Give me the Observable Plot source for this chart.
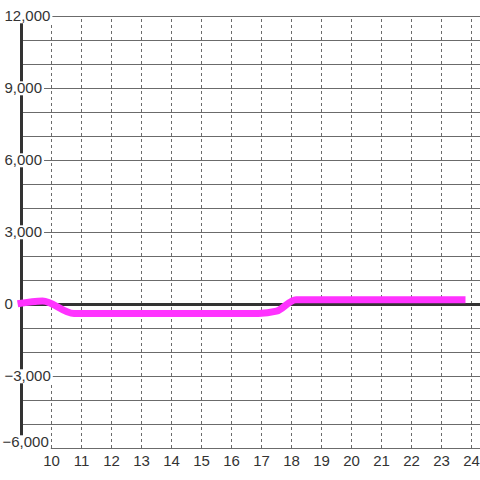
<!DOCTYPE html>
<html>
<head>
<meta charset="utf-8">
<script src="https://cdn.jsdelivr.net/npm/d3@7"></script>
<script src="https://cdn.jsdelivr.net/npm/@observablehq/plot@0.6"></script>
<style>
  html, body { margin: 0; padding: 0; background: #fff; }
  svg { display: block; }
</style>
</head>
<body>
<div id="chart"></div>
<script>
// Series values
const hours  = [8.87, 9.7, 10.75, 16.9, 17.5, 18.15, 23.8];
const values = [30,   150, -370,  -370, -280, 200,   200];

// Tick labels
const xTicks = [10, 11, 12, 13, 14, 15, 16, 17, 18, 19, 20, 21, 22, 23, 24];
const yTicks = [-6000, -3000, 0, 3000, 6000, 9000, 12000];
const yGrid  = [-6000, -5000, -4000, -3000, -2000, -1000, 0, 1000, 2000, 3000, 4000, 5000, 6000, 7000, 8000, 9000, 10000, 11000, 12000];

const data = hours.map((h, i) => ({x: h, y: values[i]}));
const fmt = d3.format(",");
const font = "Liberation Sans, Arial, sans-serif";

const chart = Plot.plot({
  width: 480,
  height: 480,
  marginTop: 16,
  marginBottom: 32,
  marginLeft: 0,
  marginRight: 0,
  x: {domain: [8.3, 24.3], axis: null},
  y: {domain: [-6000, 12000], axis: null},
  style: {fontFamily: font, background: "#fff"},
  marks: [
    Plot.ruleY(yGrid, {y: d => d, x1: 9, x2: 24.3, stroke: "#6b6b6b", strokeWidth: 1, strokeOpacity: 1}),
    Plot.ruleX(xTicks, {x: d => d, y1: -6000, y2: 12000, stroke: "#6b6b6b", strokeWidth: 1, strokeDasharray: "3,3", strokeOpacity: 1}),
    Plot.ruleY([0], {x1: 9, x2: 24.3, stroke: "#333", strokeWidth: 3, strokeOpacity: 1}),
    Plot.ruleX([9], {y1: -6000, y2: 12000, stroke: "#333", strokeWidth: 3, strokeOpacity: 1}),
    Plot.text(yTicks.filter(d => d !== -6000), {
      y: d => d, text: d => fmt(d), frameAnchor: "left", textAnchor: "start", dx: 4,
      fill: "#333", fontSize: 15, ariaLabel: () => "ylabel"
    }),
    Plot.text([-6000], {
      y: d => d, text: d => fmt(d), frameAnchor: "left", textAnchor: "start", dx: 2, dy: -6,
      fill: "#333", fontSize: 15, ariaLabel: () => "ylabel"
    }),
    Plot.line(data, {x: "x", y: "y", stroke: "#ff33ff", strokeWidth: 7, curve: "monotone-x", strokeLinecap: "butt", strokeLinejoin: "round"}),
    Plot.text(xTicks, {
      x: d => d, y: -6000, text: d => String(d), dy: 13,
      fill: "#333", fontSize: 15, textAnchor: "middle"
    })
  ]
});

document.getElementById("chart").appendChild(chart);

// White boxes behind the y tick labels (as in the reference)
const labelSet = new Set(yTicks.map(fmt));
const ns = "http://www.w3.org/2000/svg";
chart.querySelectorAll("text").forEach(t => {
  if (!labelSet.has(t.textContent)) return;
  const b = t.getBBox();
  const r = document.createElementNS(ns, "rect");
  const pad = 2;
  r.setAttribute("x", b.x - pad);
  r.setAttribute("y", b.y + 2);
  r.setAttribute("width", b.width + 2 * pad);
  r.setAttribute("height", Math.max(0, b.height - 3));
  r.setAttribute("fill", "white");
  if (t.getAttribute("transform")) r.setAttribute("transform", t.getAttribute("transform"));
  t.parentNode.insertBefore(r, t);
});
</script>
</body>
</html>
